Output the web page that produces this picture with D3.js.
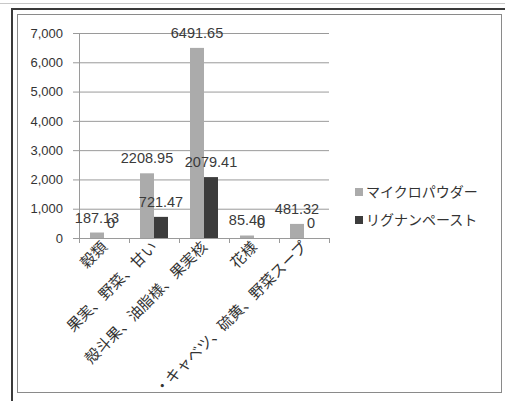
<!DOCTYPE html>
<html>
<head>
<meta charset="utf-8">
<script src="https://cdn.jsdelivr.net/npm/d3@7"></script>
<style>
  html, body { margin: 0; padding: 0; background: #fff; }
  svg { display: block; }
</style>
</head>
<body>
<svg id="chart" width="505" height="401"></svg>
<script>
// Categories along the x axis
const categories = ["穀類", "果実、野菜、甘い", "殻斗果、油脂様、果実核", "花様", "・キャベツ、硫黄、野菜スープ"];
// Series names
const seriesNames = ["マイクロパウダー", "リグナンペースト"];
// Series values, one array per series
const microPowder = [187.13, 2208.95, 6491.65, 85.40, 481.32];
const lignanPaste = [0, 721.47, 2079.41, 0, 0];
// Y axis ticks
const yTicks = [0, 1000, 2000, 3000, 4000, 5000, 6000, 7000];

const seriesValues = [microPowder, lignanPaste];
const seriesColors = ["#ababab", "#3c3c3c"];
const labelText = [
  microPowder.map(v => v.toFixed(2)),
  lignanPaste.map(v => v === 0 ? "0" : v.toFixed(2))
];

const svg = d3.select("#chart");

// Frame
svg.append("line").attr("x1", 0).attr("x2", 505).attr("y1", 3.5).attr("y2", 3.5)
  .attr("stroke", "#c8c8c8").attr("stroke-width", 1);
svg.append("line").attr("x1", 12).attr("x2", 505).attr("y1", 9).attr("y2", 9)
  .attr("stroke", "#3a3a3a").attr("stroke-width", 2);
svg.append("line").attr("x1", 12).attr("x2", 12).attr("y1", 8).attr("y2", 401)
  .attr("stroke", "#3a3a3a").attr("stroke-width", 2);
svg.append("rect").attr("x", 17.5).attr("y", 14.5).attr("width", 484).attr("height", 378)
  .attr("fill", "none").attr("stroke", "#8a8a8a").attr("stroke-width", 1);

const y = d3.scaleLinear().domain([0, 7000]).range([238, 33]);
const x0 = d3.scaleBand().domain(categories).range([79, 329]).padding(0);
const x1 = d3.scaleBand().domain(seriesNames).range([11, 39]).padding(0);

// Gridlines and y labels
const yAxis = d3.axisLeft(y).tickValues(yTicks)
  .tickSize(-(329 - 79) - 6)
  .tickPadding(10)
  .tickFormat(d3.format(","));
const gy = svg.append("g").attr("transform", "translate(73,0)").call(yAxis);
gy.select(".domain").remove();
gy.selectAll(".tick line").attr("stroke", "#9a9a9a").attr("stroke-width", 1);
gy.selectAll(".tick text")
  .attr("fill", "#333")
  .style("font-family", "'Liberation Sans', Arial, sans-serif")
  .style("font-size", "13px");

// Vertical axis line
svg.append("line").attr("x1", 79.5).attr("x2", 79.5).attr("y1", y(7000)).attr("y2", y(0))
  .attr("stroke", "#9a9a9a");

// Bars
const groups = svg.append("g").selectAll("g")
  .data(categories)
  .join("g")
  .attr("transform", d => `translate(${x0(d)},0)`);

seriesNames.forEach((s, si) => {
  groups.append("rect")
    .attr("x", x1(s))
    .attr("width", x1.bandwidth())
    .attr("y", (d, i) => y(seriesValues[si][i]))
    .attr("height", (d, i) => y(0) - y(seriesValues[si][i]))
    .attr("fill", seriesColors[si]);
});

// X axis line and ticks
const xAxis = d3.axisBottom(x0).tickSize(0).tickFormat("");
const gx = svg.append("g").attr("transform", `translate(0,${y(0)})`).call(xAxis);
gx.select(".domain").attr("stroke", "#9a9a9a");
const boundaries = categories.map(c => x0(c)).concat([x0(categories[categories.length - 1]) + x0.bandwidth()]);
svg.append("g").selectAll("line").data(boundaries).join("line")
  .attr("x1", d => d + 0.5).attr("x2", d => d + 0.5)
  .attr("y1", y(0)).attr("y2", y(0) + 5)
  .attr("stroke", "#9a9a9a");

// Rotated category labels
svg.append("g").selectAll("text")
  .data(categories)
  .join("text")
  .attr("transform", d => `translate(${x0(d) + x0.bandwidth() / 2 + 4},${y(0) + 10}) rotate(-45)`)
  .attr("text-anchor", "end")
  .attr("fill", "#333")
  .style("font-family", "'Noto Sans CJK JP', sans-serif")
  .style("font-size", "15px")
  .text(d => d);

// Value labels
seriesNames.forEach((s, si) => {
  svg.append("g").selectAll("text")
    .data(categories)
    .join("text")
    .attr("x", (d) => x0(d) + x1(s) + x1.bandwidth() / 2)
    .attr("y", (d, i) => y(seriesValues[si][i]) - 10)
    .attr("text-anchor", "middle")
    .attr("fill", "#3a3a3a")
    .style("font-family", "'Liberation Sans', Arial, sans-serif")
    .style("font-size", "14.5px")
    .text((d, i) => labelText[si][i]);
});

// Legend
const legend = svg.append("g").selectAll("g")
  .data(seriesNames)
  .join("g")
  .attr("transform", (d, i) => `translate(355,${192 + i * 28})`);
legend.append("rect")
  .attr("x", 0).attr("y", -4).attr("width", 8).attr("height", 8)
  .attr("fill", (d, i) => seriesColors[i]);
legend.append("text")
  .attr("x", 11).attr("y", 5)
  .attr("fill", "#333")
  .style("font-family", "'Noto Sans CJK JP', sans-serif")
  .style("font-size", "14px")
  .text(d => d);
</script>
</body>
</html>
